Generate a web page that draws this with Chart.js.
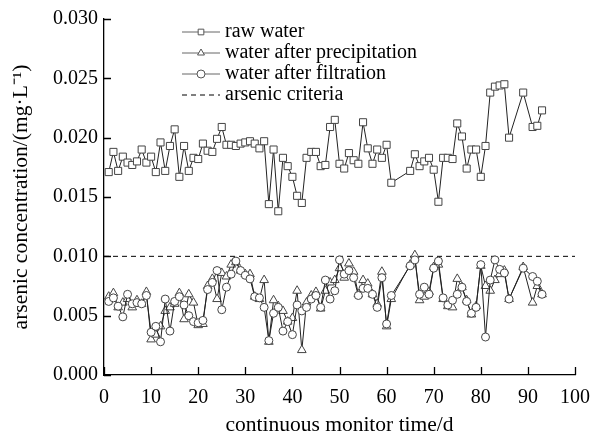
<!DOCTYPE html>
<html>
<head>
<meta charset="utf-8">
<script src="https://cdn.jsdelivr.net/npm/chart.js@4.4.0/dist/chart.umd.min.js"></script>
<style>
html, body { margin: 0; padding: 0; background: #fff; }
#wrap { width: 601px; height: 434px; }
</style>
</head>
<body>
<div id="wrap"><canvas id="chart" width="601" height="434"></canvas></div>
<script>
'use strict';
// monitor days (gaps where no sample)
var days = [1,2,3,4,5,6,7,8,9,10,11,12,13,14,15,16,17,18,19,20,
    21,22,23,24,25,26,27,28,29,30,31,32,33,34,35,36,37,38,39,40,
    41,42,43,44,45,46,47,48,49,50,51,52,53,54,55,56,57,58,59,60,61,
    65,66,67,68,69,70,71,72,73,74,75,76,77,78,79,80,81,82,83,84,85,86,
    89,91,92,93];
var rawWater = [0.0171,0.0188,0.0172,0.0184,0.0179,0.0177,0.0180,0.0190,0.0179,0.0184,
    0.0171,0.0196,0.0172,0.0193,0.0207,0.0167,0.0193,0.0172,0.0183,0.0182,
    0.0195,0.0189,0.0188,0.0199,0.0209,0.0194,0.0194,0.0193,0.0195,0.0196,
    0.0197,0.0195,0.0191,0.0197,0.0144,0.0190,0.0138,0.0183,0.0176,0.0167,
    0.0151,0.0145,0.0183,0.0188,0.0188,0.0176,0.0177,0.0209,0.0215,0.0178,
    0.0174,0.0187,0.0181,0.0178,0.0213,0.0191,0.0178,0.0190,0.0183,0.0194,0.0162,
    0.0172,0.0186,0.0176,0.0180,0.0183,0.0173,0.0146,0.0183,0.0183,0.0182,
    0.0212,0.0201,0.0174,0.0190,0.0190,0.0167,0.0193,0.0238,0.0243,0.0244,0.0245,0.0200,
    0.0238,0.0209,0.0210,0.0223];
var afterPrecipitation = [0.0066,0.0069,0.0057,0.0061,0.0064,0.0057,0.0063,0.0060,0.0070,0.0030,
    0.0034,0.0041,0.0054,0.0057,0.0060,0.0069,0.0047,0.0068,0.0061,0.0042,
    0.0043,0.0075,0.0081,0.0064,0.0086,0.0083,0.0093,0.0095,0.0088,0.0085,
    0.0085,0.0066,0.0064,0.0080,0.0028,0.0063,0.0058,0.0054,0.0045,0.0048,
    0.0071,0.0021,0.0061,0.0067,0.0070,0.0056,0.0071,0.0078,0.0080,0.0090,
    0.0082,0.0094,0.0087,0.0068,0.0080,0.0077,0.0068,0.0060,0.0087,0.0041,0.0064,
    0.0093,0.0101,0.0063,0.0066,0.0070,0.0091,0.0093,0.0064,0.0058,0.0057,
    0.0081,0.0074,0.0063,0.0051,0.0058,0.0092,0.0075,0.0071,0.0080,0.0085,0.0088,0.0064,
    0.0091,0.0061,0.0075,0.0068];
var afterFiltration = [0.0062,0.0065,0.0058,0.0049,0.0068,0.0060,0.0061,0.0060,0.0067,0.0036,
    0.0041,0.0028,0.0064,0.0037,0.0062,0.0066,0.0059,0.0050,0.0045,0.0044,
    0.0046,0.0072,0.0078,0.0088,0.0055,0.0074,0.0085,0.0096,0.0088,0.0084,
    0.0081,0.0066,0.0065,0.0057,0.0029,0.0052,0.0057,0.0037,0.0045,0.0034,
    0.0059,0.0054,0.0057,0.0064,0.0067,0.0057,0.0080,0.0064,0.0071,0.0097,
    0.0085,0.0088,0.0082,0.0067,0.0073,0.0073,0.0068,0.0057,0.0082,0.0043,0.0067,
    0.0092,0.0097,0.0068,0.0074,0.0068,0.0090,0.0096,0.0065,0.0059,0.0063,
    0.0068,0.0074,0.0062,0.0052,0.0057,0.0093,0.0032,0.0080,0.0097,0.0089,0.0086,0.0064,
    0.0090,0.0083,0.0079,0.0068];
var arsenicCriteria = 0.010;
var xRange = [0, 100];
var yRange = [0, 0.030];
var seriesNames = ['raw water', 'water after precipitation', 'water after filtration', 'arsenic criteria'];

var FONT = "'Liberation Serif', 'Times New Roman', serif";

function pairs(vals) {
    return days.map(function(d, i) { return { x: d, y: vals[i] }; });
}

function series(label, vals, style, radius, order) {
    return {
        label: label,
        data: pairs(vals),
        borderColor: '#222',
        borderWidth: 1,
        pointStyle: style,
        pointRadius: radius,
        pointBackgroundColor: '#fff',
        pointBorderColor: '#444',
        pointBorderWidth: 1,
        order: order
    };
}

// tick marks pointing into the plot
var innerTicks = {
    id: 'innerTicks',
    afterDraw: function(chart) {
        var ctx = chart.ctx, x = chart.scales.x, y = chart.scales.y;
        ctx.save();
        ctx.strokeStyle = '#000';
        ctx.lineWidth = 1.3;
        ctx.beginPath();
        x.ticks.forEach(function(t, i) {
            var px = Math.round(x.getPixelForTick(i)) + 0.5;
            ctx.moveTo(px, x.top);
            ctx.lineTo(px, x.top - 8);
        });
        y.ticks.forEach(function(t, i) {
            var py = Math.round(y.getPixelForTick(i)) + 0.5;
            ctx.moveTo(y.right, py);
            ctx.lineTo(y.right + 7, py);
        });
        ctx.stroke();
        ctx.restore();
    }
};

// legend with line sample + marker, like the paper figure
var lineLegend = {
    id: 'lineLegend',
    afterDraw: function(chart) {
        var ctx = chart.ctx;
        ctx.save();
        ctx.font = '20px ' + FONT;
        ctx.textBaseline = 'middle';
        chart.data.datasets.forEach(function(ds, row) {
            var yy = 32 + row * 21;
            ctx.beginPath();
            ctx.strokeStyle = ds.borderDash ? '#000' : '#666';
            ctx.lineWidth = 1;
            ctx.setLineDash(ds.borderDash || []);
            ctx.moveTo(182, yy);
            ctx.lineTo(220, yy);
            ctx.stroke();
            ctx.setLineDash([]);
            if (ds.pointRadius > 0) {
                ctx.fillStyle = '#fff';
                ctx.strokeStyle = '#555';
                Chart.helpers.drawPoint(ctx, { pointStyle: ds.pointStyle, radius: 4, rotation: 0, borderWidth: 1 }, 201, yy);
            }
            ctx.fillStyle = '#000';
            ctx.fillText(ds.label, 225, yy);
        });
        ctx.restore();
    }
};

new Chart(document.getElementById('chart'), {
    type: 'line',
    data: {
        datasets: [
            series(seriesNames[0], rawWater, 'rect', 5, 2),
            series(seriesNames[1], afterPrecipitation, 'triangle', 5, 1),
            series(seriesNames[2], afterFiltration, 'circle', 4, 0),
            {
                label: seriesNames[3],
                data: [{ x: xRange[0], y: arsenicCriteria }, { x: xRange[1], y: arsenicCriteria }],
                borderColor: '#000',
                borderWidth: 1,
                borderDash: [5, 4],
                pointRadius: 0,
                order: 3
            }
        ]
    },
    options: {
        responsive: false,
        animation: false,
        devicePixelRatio: 1,
        layout: { padding: { top: 19, right: 18, bottom: 0, left: 0 } },
        plugins: { legend: { display: false }, tooltip: { enabled: false } },
        scales: {
            x: {
                type: 'linear',
                min: xRange[0],
                max: xRange[1],
                ticks: { stepSize: 10, color: '#000', font: { family: FONT, size: 20 }, padding: 11, maxRotation: 0 },
                grid: { drawOnChartArea: false, drawTicks: false },
                border: { color: '#000', width: 1.3 },
                title: { display: true, text: 'continuous monitor time/d', color: '#000', font: { family: FONT, size: 21.5, lineHeight: 1 }, padding: { top: 0, bottom: -2 } },
                afterFit: function(s) { s.height = 59; }
            },
            y: {
                min: yRange[0],
                max: yRange[1],
                ticks: {
                    stepSize: 0.005, color: '#000', font: { family: FONT, size: 20 }, padding: 6,
                    callback: function(v) { return v.toFixed(3); }
                },
                grid: { drawOnChartArea: false, drawTicks: false },
                border: { color: '#000', width: 1.3 },
                title: { display: true, text: 'arsenic concentration/(mg·L⁻¹)', color: '#000', font: { family: FONT, size: 21.5, lineHeight: 1 }, padding: { top: 11, bottom: 0 } },
                afterFit: function(s) { s.width = 104; }
            }
        }
    },
    plugins: [innerTicks, lineLegend]
});
</script>
</body>
</html>
